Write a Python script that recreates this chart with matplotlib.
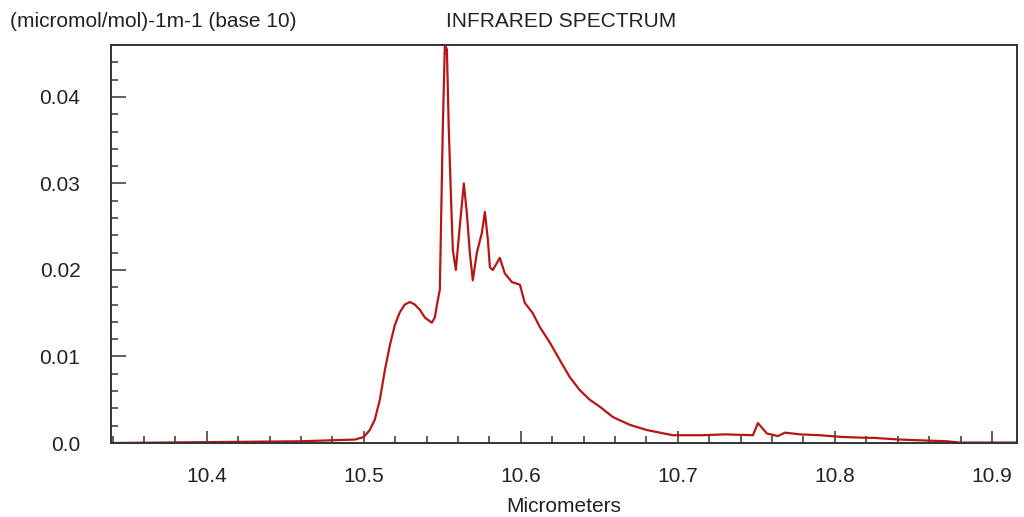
import matplotlib.pyplot as plt
from matplotlib.ticker import MultipleLocator, FuncFormatter

plt.rcParams['font.family'] = ['Liberation Sans', 'DejaVu Sans']

# spectre (micrometres, absorbance)
longueur_onde = [10.3389, 10.4592, 10.4943, 10.5000, 10.5038, 10.5070, 10.5102,
                 10.5134, 10.5166, 10.5197, 10.5229, 10.5261, 10.5293, 10.5325,
                 10.5357, 10.5389, 10.5433, 10.5452, 10.5471, 10.5484, 10.5490,
                 10.5503, 10.5516, 10.5529, 10.5541, 10.5554, 10.5567, 10.5586,
                 10.5611, 10.5637, 10.5656, 10.5675, 10.5694, 10.5720, 10.5752,
                 10.5771, 10.5790, 10.5803, 10.5822, 10.5866, 10.5898, 10.5943,
                 10.5994, 10.6025, 10.6076, 10.6121, 10.6185, 10.6248, 10.6312,
                 10.6376, 10.6439, 10.6503, 10.6586, 10.6694, 10.6803, 10.6885,
                 10.6968, 10.7159, 10.7299, 10.7478, 10.7510, 10.7567, 10.7637,
                 10.7682, 10.7777, 10.7904, 10.8045, 10.8204, 10.8242, 10.8414,
                 10.8713, 10.8796, 10.9159]
absorbance = [0.0, 0.0002, 0.0004, 0.0007, 0.0015, 0.0027, 0.0050,
              0.0084, 0.0113, 0.0136, 0.0151, 0.0160, 0.0163, 0.0160,
              0.0154, 0.0145, 0.0139, 0.0145, 0.0165, 0.0177, 0.0235,
              0.0364, 0.0460, 0.0455, 0.0364, 0.0290, 0.0223, 0.0200,
              0.0250, 0.0300, 0.0266, 0.0220, 0.0188, 0.0220, 0.0243,
              0.0267, 0.0235, 0.0203, 0.0200, 0.0214, 0.0196, 0.0186,
              0.0183, 0.0162, 0.0150, 0.0134, 0.0116, 0.0096, 0.0076,
              0.0061, 0.0050, 0.0042, 0.0030, 0.0021, 0.0015, 0.0012,
              0.0009, 0.0009, 0.0010, 0.0009, 0.0023, 0.0011, 0.0008,
              0.0012, 0.0010, 0.0009, 0.0007, 0.0006, 0.0006, 0.0004,
              0.0002, 0.00005, 0.00005]

fig = plt.figure(figsize=(10.24, 5.17), dpi=100)
ax = fig.add_axes([0.1084, 0.1431, 0.8848, 0.7699])

ax.plot(longueur_onde, absorbance, color='#b81515', lw=1.6)

ax.set_xlim(10.339, 10.916)
ax.set_ylim(0, 0.046)
ax.xaxis.set_major_locator(MultipleLocator(0.1))
ax.xaxis.set_minor_locator(MultipleLocator(0.02))
ax.yaxis.set_major_locator(MultipleLocator(0.01))
ax.yaxis.set_minor_locator(MultipleLocator(0.002))
ax.yaxis.set_major_formatter(FuncFormatter(lambda v, p: '0.0' if abs(v) < 1e-9 else '%.2f' % v))
ax.xaxis.set_major_formatter(FuncFormatter(lambda v, p: '%.1f' % v))

ax.tick_params(which='both', direction='in', colors='#333333', labelcolor='#222222',
               labelsize=15, width=1.1, top=False, right=False)
ax.tick_params(axis='x', which='major', length=9, pad=17)
ax.tick_params(axis='y', which='major', length=11, pad=22)
ax.tick_params(which='minor', length=5)
for s in ax.spines.values():
    s.set_color('#333333')
    s.set_linewidth(1.4)

ax.set_xlabel('Micrometers', fontsize=15, color='#222222', labelpad=8)
fig.text(0.01, 0.959, '(micromol/mol)-1m-1 (base 10)', fontsize=15, color='#222222',
         ha='left', va='center')
fig.text(0.548, 0.959, 'INFRARED SPECTRUM', fontsize=15, color='#222222',
         ha='center', va='center')

plt.savefig('out.png', dpi=100)
